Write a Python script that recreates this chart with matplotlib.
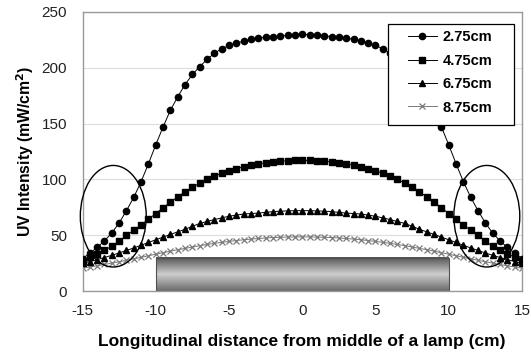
import numpy as np
import matplotlib
matplotlib.use("Agg")
import matplotlib.pyplot as plt
from matplotlib.patches import Ellipse, Rectangle

plt.rcParams['font.family'] = ['Liberation Sans', 'DejaVu Sans']
plt.rcParams['axes.unicode_minus'] = False

# ── Data (0.5 cm steps, right half; curves are symmetric) ──
half_x = [0, 0.5, 1, 1.5, 2, 2.5, 3, 3.5, 4, 4.5, 5, 5.5, 6, 6.5, 7, 7.5,
          8, 8.5, 9, 9.5, 10, 10.5, 11, 11.5, 12, 12.5, 13, 13.5, 14, 14.5, 15]

h275 = [230, 229.5, 229, 228.5, 228, 227.5, 226.5, 225.5, 224, 222, 220, 217, 213,
        207.5, 201, 194, 185, 174, 162, 147, 131, 114, 98, 84, 72, 61, 52, 45,
        39, 34, 29]
h475 = [117, 117, 116.7, 116.3, 115.7, 114.9, 113.9, 112.7, 111.3, 109.6, 107.7,
        105.5, 102.9, 100, 96.6, 92.9, 88.8, 84.4, 79.6, 74.6, 69.4, 64.3, 59.2,
        54.4, 49.8, 44.7, 40, 36.7, 33.5, 30.2, 27]
h675 = [72, 72, 71.8, 71.5, 71.1, 70.5, 69.8, 69.4, 69, 68, 67, 65.5, 64, 62.3,
        60.5, 58, 55.3, 53, 50.7, 48.3, 45.9, 43.5, 41, 38.6, 36.3, 34.1, 32,
        30, 28.1, 26.4, 24.7]
h875 = [48.5, 48.45, 48.35, 48.15, 47.9, 47.5, 47.05, 46.5, 45.9, 45.2, 44.45,
        43.6, 42.7, 41.7, 40.6, 39.4, 38.2, 37, 35.7, 34.3, 33, 31.6, 30.2, 28.8,
        27.5, 26.2, 25, 23.8, 22.6, 21.5, 20.4]

labels = ["2.75cm", "4.75cm", "6.75cm", "8.75cm"]
lamp_start, lamp_end, lamp_height = -10, 10, 30


def mirror(vals):
    return vals[:0:-1] + vals


x = [-v for v in half_x[:0:-1]] + half_x

fig = plt.figure(figsize=(5.31, 3.59), dpi=100)
ax = fig.add_axes([0.1554, 0.1894, 0.8276, 0.7772])

# ── Lamp bar with a cylindrical gradient ──────────────────────────────────────
grad = np.concatenate([np.linspace(0.33, 0.80, 40), np.linspace(0.80, 0.42, 40)])
ax.imshow(grad.reshape(-1, 1), cmap="gray", vmin=0, vmax=1, aspect="auto",
          extent=[lamp_start, lamp_end, 0, lamp_height], zorder=1)
ax.add_patch(Rectangle((lamp_start, 0), lamp_end - lamp_start, lamp_height,
                       fill=False, ec="#505050", lw=0.8, zorder=1.5))

# ── Series ────────────────────────────────────────────────────────────────────
ax.plot(x, mirror(h275), color="black", lw=0.7, marker="o", ms=4.5,
        label=labels[0], zorder=5)
ax.plot(x, mirror(h475), color="black", lw=0.7, marker="s", ms=4.8,
        label=labels[1], zorder=4)
ax.plot(x, mirror(h675), color="black", lw=0.7, marker="^", ms=4.8,
        label=labels[2], zorder=3)
ax.plot(x, mirror(h875), color="#7a7a7a", lw=0.7, marker="x", ms=4.3, mew=0.9,
        label=labels[3], zorder=2)

# ── Highlight ellipses at the lamp ends ───────────────────────────────────────
for cx in (-12.9, 12.6):
    ax.add_patch(Ellipse((cx, 67), 4.5, 91, fill=False, ec="black", lw=1.0,
                         zorder=6, clip_on=False))

ax.set_xlim(-15, 15)
ax.set_ylim(0, 250)
ax.set_xticks(range(-15, 16, 5))
ax.set_yticks(range(0, 251, 50))
ax.yaxis.grid(True, color="#dddddd", lw=0.8)
ax.set_axisbelow(True)
ax.tick_params(length=0, labelsize=11, labelcolor="#222222")
ax.tick_params(axis="x", pad=9)
ax.tick_params(axis="y", pad=11)
for s in ax.spines.values():
    s.set_color("#999999")
    s.set_linewidth(1.0)

ax.set_xlabel("Longitudinal distance from middle of a lamp (cm)", fontsize=12.5,
              fontweight="bold", labelpad=12)
ax.set_ylabel("UV Intensity (mW/cm$^\\mathbf{2}$)", fontsize=11.3,
              fontweight="bold", labelpad=4)

# ── Legend: Excel-style box drawn separately, entries without frame ──────────
ax.add_patch(Rectangle((0.695, 0.595), 0.287, 0.362, transform=ax.transAxes,
                       fill=True, fc="white", ec="black", lw=0.9, zorder=7))
leg = ax.legend(loc="upper left", bbox_to_anchor=(0.74, 0.935), frameon=False,
                prop={"weight": "bold", "size": 10.5}, handlelength=2.0,
                borderpad=0, borderaxespad=0, labelspacing=0.65,
                handletextpad=0.4)
leg.set_zorder(8)

fig.savefig("out.png", dpi=100)
